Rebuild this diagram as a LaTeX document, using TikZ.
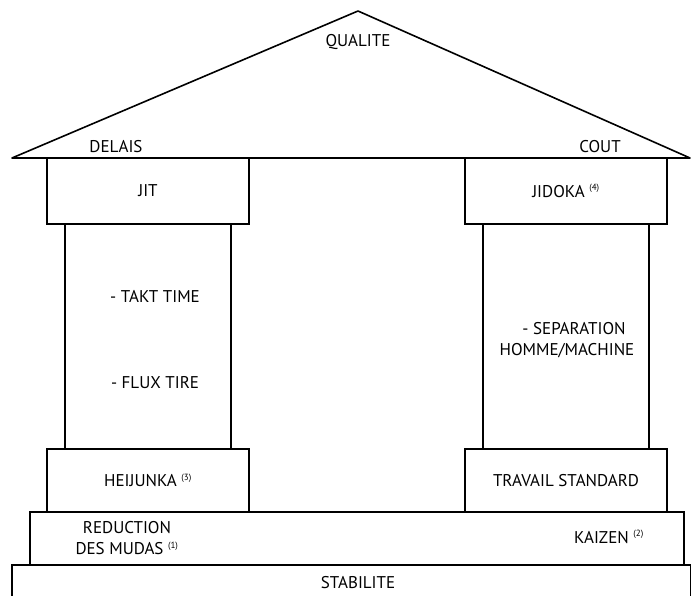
\documentclass[tikz,border=0pt]{standalone}
\usepackage{fontspec}
\setmainfont{PT Sans}
\usepackage{tikz}

\newcommand{\refnum}[1]{\textsuperscript{\fontsize{9}{10}\selectfont(#1)}}

\begin{document}
\begin{tikzpicture}[x=1pt,y=-1pt,line width=1.6pt,
    every node/.style={font=\fontsize{17}{21}\selectfont,align=center},
    block/.style={draw,rectangle,inner sep=0pt},
    label/.style={inner sep=1pt}]

    \useasboundingbox (0,0) rectangle (691,596);
    \clip (0,0) rectangle (691,596);

    % Roof
    \coordinate (roofL) at (12,158);
    \coordinate (roofT) at (358,11);
    \coordinate (roofR) at (690,158);
    \draw[line join=round] (roofL) -- (roofT) -- (roofR) -- cycle;
    \node[label] (qualite) at (358,42) {QUALITE};
    \node[label] (delais) at (116,147) {DELAIS};
    \node[label] (cout) at (600,147) {COUT};

    % Capitals and bases of the two pillars
    \node[block,minimum width=202,minimum height=66] (jit) at (148,191) {JIT};
    \node[block,minimum width=202,minimum height=66] (jidoka) at (566,191) {JIDOKA \refnum{4}};
    \node[block,minimum width=202,minimum height=63] (heijunka) at (148,480.5) {HEIJUNKA \refnum{3}};
    \node[block,minimum width=202,minimum height=63] (travail) at (566,480.5) {TRAVAIL STANDARD};

    % Shafts
    \node[block,minimum width=166,minimum height=225] (colL) at (148,336.5) {};
    \node[block,minimum width=166,minimum height=225] (colR) at (566,336.5) {};
    \node[label] (takt) at (155,296) {- TAKT TIME};
    \node[label] (flux) at (155,383) {- FLUX TIRE};
    \node[label] (separ) at (567,340) {\hspace*{14pt}- SEPARATION\\HOMME/MACHINE};

    % Steps
    \node[block,minimum width=654,minimum height=53] (base) at (357,538.5) {};
    \node[label] (mudas) at (127,538) {REDUCTION\\DES MUDAS \refnum{1}};
    \node[label] (kaizen) at (609,537) {KAIZEN \refnum{2}};
    \node[block,minimum width=679,minimum height=40] (stab) at (351.5,585) {};
    \node[label] (stabilite) at (358,583) {STABILITE};

\end{tikzpicture}
\end{document}
